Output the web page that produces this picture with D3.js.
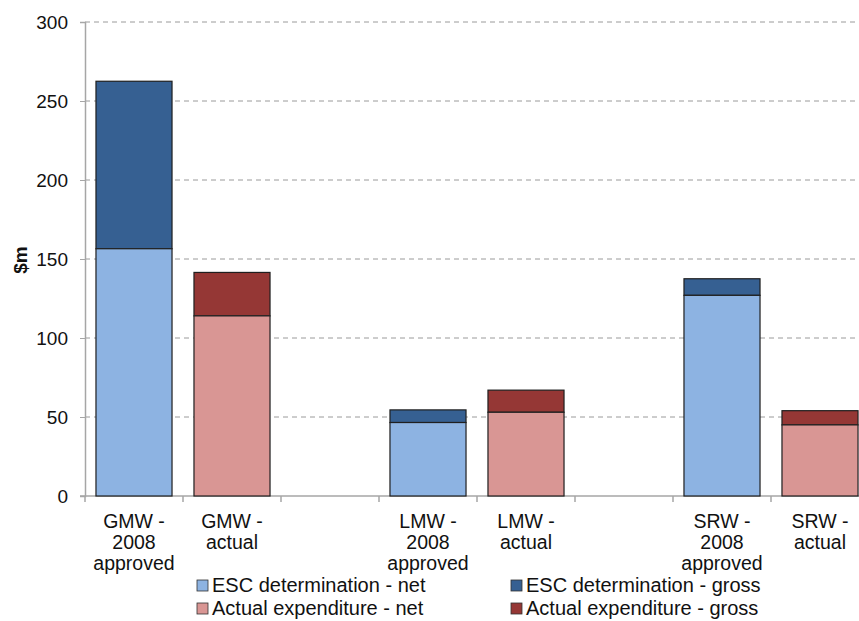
<!DOCTYPE html>
<html>
<head>
<meta charset="utf-8">
<script src="https://cdn.jsdelivr.net/npm/d3@7"></script>
<style>
  body { margin: 0; background: #fff; }
  svg { display: block; font-family: "Liberation Sans", Arial, sans-serif; }
</style>
</head>
<body>
<svg id="chart" width="859" height="621"></svg>
<script>
// Capital expenditure by water business ($m)
const categories = [
  "GMW - 2008 approved", "GMW - actual", "",
  "LMW - 2008 approved", "LMW - actual", " ",
  "SRW - 2008 approved", "SRW - actual"
];
const categoryLines = [
  ["GMW -", "2008", "approved"], ["GMW -", "actual"], [],
  ["LMW -", "2008", "approved"], ["LMW -", "actual"], [],
  ["SRW -", "2008", "approved"], ["SRW -", "actual"]
];
// which series pair each bar uses: "esc" or "act" (null for spacer slots)
const barKind = ["esc", "act", null, "esc", "act", null, "esc", "act"];
const netValues   = [156.5, 114, null, 46.5, 53, null, 127, 45];
const grossValues = [262.5, 141.5, null, 54.5, 67, null, 137.5, 54];
const yTicks = [0, 50, 100, 150, 200, 250, 300];
const legendLabels = [
  "ESC determination - net", "ESC determination - gross",
  "Actual expenditure - net", "Actual expenditure - gross"
];
const colors = {
  escNet: "#8DB3E2", escGross: "#366092",
  actNet: "#D99694", actGross: "#953735"
};

const svg = d3.select("#chart");
const x = d3.scaleBand().domain(categories).range([85, 869]).paddingInner(0.224).paddingOuter(0.112);
const band = d3.scaleBand().domain(categories).range([85, 869]);
const y = d3.scaleLinear().domain([0, 300]).range([496, 22]);

// gridlines
svg.append("g").selectAll("line").data(yTicks.filter(d => d > 0)).join("line")
  .attr("x1", 85).attr("x2", 859)
  .attr("y1", d => y(d)).attr("y2", d => y(d))
  .attr("stroke", "#9a9a9a").attr("stroke-width", 1)
  .attr("stroke-dasharray", "5,4");

// y axis
const yAxis = svg.append("g").attr("transform", "translate(85,0)")
  .call(d3.axisLeft(y).tickValues(yTicks).tickSize(5).tickPadding(12));
yAxis.select(".domain").attr("stroke", "#a6a6a6").attr("stroke-width", 1.5);
yAxis.selectAll(".tick line").attr("stroke", "#a6a6a6");
yAxis.selectAll("text").attr("font-size", 19).attr("fill", "#111")
  .attr("font-family", "Liberation Sans, Arial, sans-serif");

// x axis baseline and ticks between categories
const xg = svg.append("g");
xg.append("line").attr("x1", 80).attr("x2", 859).attr("y1", y(0)).attr("y2", y(0))
  .attr("stroke", "#a6a6a6").attr("stroke-width", 1.5);
xg.selectAll("line.t").data(categories).join("line").attr("class", "t")
  .attr("x1", d => band(d)).attr("x2", d => band(d))
  .attr("y1", y(0)).attr("y2", y(0) + 6)
  .attr("stroke", "#a6a6a6").attr("stroke-width", 1.5);

// stacked bars
const bars = svg.append("g");
categories.forEach((c, i) => {
  if (!barKind[i]) return;
  const netCol = barKind[i] === "esc" ? colors.escNet : colors.actNet;
  const grossCol = barKind[i] === "esc" ? colors.escGross : colors.actGross;
  bars.append("rect")
    .attr("x", x(c)).attr("width", x.bandwidth())
    .attr("y", y(grossValues[i])).attr("height", y(netValues[i]) - y(grossValues[i]))
    .attr("fill", grossCol).attr("stroke", "#1f1f1f").attr("stroke-width", 1.2);
  bars.append("rect")
    .attr("x", x(c)).attr("width", x.bandwidth())
    .attr("y", y(netValues[i])).attr("height", y(0) - y(netValues[i]))
    .attr("fill", netCol).attr("stroke", "#1f1f1f").attr("stroke-width", 1.2);
});

// category labels
const lab = svg.append("g");
categories.forEach((c, i) => {
  const cx = band(c) + band.bandwidth() / 2;
  const t = lab.append("text").attr("text-anchor", "middle")
    .attr("font-size", 19.5).attr("fill", "#111");
  categoryLines[i].forEach((ln, k) => {
    t.append("tspan").attr("x", cx).attr("y", 528 + k * 21).text(ln);
  });
});

// y axis title
svg.append("text").attr("transform", "translate(27,260) rotate(-90)")
  .attr("text-anchor", "middle").attr("font-size", 19).attr("font-weight", "bold")
  .attr("fill", "#111").text("$m");

// legend
const legColors = [colors.escNet, colors.escGross, colors.actNet, colors.actGross];
const leg = svg.append("g");
legendLabels.forEach((l, i) => {
  const lx = i % 2 === 0 ? 197 : 511;
  const ly = i < 2 ? 585 : 608;
  leg.append("rect").attr("x", lx).attr("y", ly - 5).attr("width", 11).attr("height", 11)
    .attr("fill", legColors[i]).attr("stroke", "#333").attr("stroke-width", 0.8);
  leg.append("text").attr("x", lx + 15).attr("y", ly + 6.5)
    .attr("font-size", 20).attr("fill", "#111").text(l);
});
</script>
</body>
</html>
